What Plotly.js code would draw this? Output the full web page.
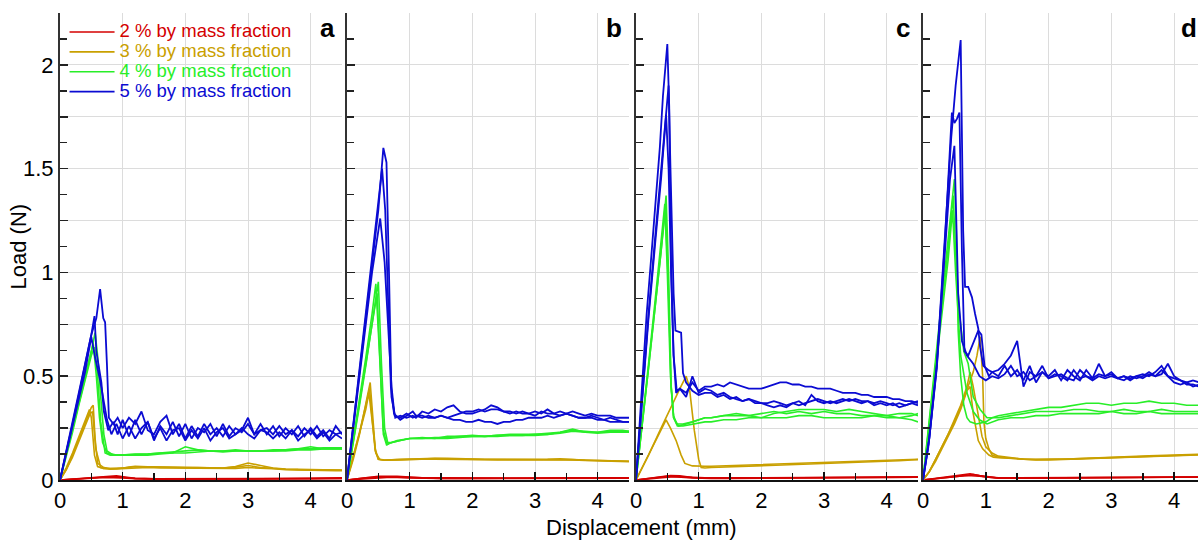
<!DOCTYPE html>
<html>
<head>
<meta charset="utf-8">
<script src="https://cdn.plot.ly/plotly-3.0.1.min.js"></script>
<style>html,body{margin:0;padding:0;background:#fff;}#chart{width:1198px;height:540px;}</style>
</head>
<body>
<div id="chart"></div>
<script>
// ---------- shared plateau grids (mm) ----------
const G  = [1.2,1.3,1.4,1.5,1.6,1.7,1.8,1.9,2.0,2.1,2.2,2.3,2.4,2.5,2.6,2.7,2.8,2.9,3.0,3.1,3.2,3.3,3.4,3.5,3.6,3.7,3.8,3.9,4.0,4.1,4.2,4.3,4.4,4.5];
const GM = [1.2,1.4,1.6,1.8,2.0,2.2,2.4,2.6,2.8,3.0,3.2,3.4,3.6,3.8,4.0,4.2,4.4,4.5];
const GC = [1.2,1.5,2.0,2.5,3.0,3.5,4.0,4.5];

// ---------- series ----------
const seriesNames  = ['2 % by mass fraction','3 % by mass fraction','4 % by mass fraction','5 % by mass fraction'];
const seriesColors = ['#d40000','#c9a000','#28ee28','#0b0bd2'];
const panelLetters = ['a','b','c','d'];
const yTickVals = [0,0.25,0.5,0.75,1,1.25,1.5,1.75,2];
const yTickText = ['0','','0.5','','1','','1.5','','2'];
const xTickVals = [0,1,2,3,4];
const xTickText = ['0','1','2','3','4'];

// ===== Panel a =====
const a2_1x=[0,0.3,0.6,0.9,1.1], a2_1y=[0,0.006,0.014,0.02,0.012], a2_1t=[0.008,0.006,0.005,0.005,0.005,0.006,0.007,0.008];
const a2_2x=[0,0.3,0.6,0.8,1.0], a2_2y=[0,0.005,0.012,0.016,0.012], a2_2t=[0.008,0.006,0.006,0.005,0.006,0.007,0.008,0.01];
const a2_3x=[0,0.4,0.7,1.0], a2_3y=[0,0.008,0.012,0.01], a2_3t=[0.006,0.004,0.004,0.004,0.005,0.005,0.006,0.007];

const a3_1x=[0,0.1,0.2,0.3,0.4,0.5,0.53,0.56,0.6,0.7,0.8,1.0,1.1], a3_1y=[0,0.05,0.12,0.2,0.28,0.35,0.36,0.2,0.08,0.06,0.055,0.057,0.062];
const a3_1t=[0.066,0.064,0.062,0.062,0.06,0.06,0.06,0.058,0.062,0.07,0.06,0.055,0.052,0.05,0.05,0.05,0.048,0.048];
const a3_2x=[0,0.1,0.2,0.3,0.4,0.47,0.5,0.55,0.6,0.7,0.9,1.1], a3_2y=[0,0.06,0.13,0.21,0.29,0.34,0.3,0.12,0.065,0.055,0.055,0.06];
const a3_2t=[0.064,0.063,0.062,0.06,0.06,0.059,0.058,0.058,0.065,0.082,0.07,0.058,0.053,0.05,0.05,0.049,0.048,0.047];
const a3_3x=[0,0.1,0.2,0.3,0.4,0.48,0.52,0.57,0.65,0.8,1.0], a3_3y=[0,0.05,0.11,0.19,0.26,0.32,0.33,0.15,0.06,0.052,0.055];
const a3_3t=[0.06,0.06,0.058,0.058,0.056,0.056,0.056,0.055,0.056,0.06,0.058,0.054,0.05,0.048,0.047,0.046,0.045,0.045];

const a4_1x=[0,0.1,0.2,0.3,0.4,0.5,0.56,0.6,0.65,0.7,0.75,0.85,1.0,1.1], a4_1y=[0,0.12,0.25,0.38,0.5,0.62,0.71,0.6,0.4,0.22,0.14,0.12,0.12,0.122];
const a4_1t=[0.125,0.125,0.13,0.135,0.14,0.145,0.14,0.14,0.145,0.14,0.14,0.145,0.145,0.15,0.15,0.155,0.155,0.155];
const a4_2x=[0,0.1,0.2,0.3,0.4,0.5,0.53,0.58,0.63,0.68,0.75,0.9,1.1], a4_2y=[0,0.12,0.25,0.37,0.49,0.62,0.66,0.5,0.3,0.18,0.13,0.12,0.122];
const a4_2t=[0.122,0.125,0.13,0.13,0.16,0.145,0.14,0.14,0.14,0.14,0.14,0.14,0.145,0.15,0.16,0.15,0.15,0.15];
const a4_3x=[0,0.1,0.2,0.3,0.4,0.5,0.55,0.6,0.65,0.72,0.8,1.0], a4_3y=[0,0.11,0.23,0.36,0.48,0.6,0.64,0.5,0.28,0.13,0.12,0.12];
const a4_3t=[0.12,0.12,0.125,0.13,0.13,0.135,0.14,0.135,0.14,0.14,0.14,0.14,0.14,0.145,0.145,0.15,0.15,0.15];

const a5_1x=[0,0.1,0.2,0.3,0.4,0.5,0.58,0.64,0.69,0.72,0.75,0.78,0.85,0.92,1.0,1.1], a5_1y=[0,0.14,0.28,0.42,0.56,0.7,0.78,0.92,0.78,0.76,0.55,0.3,0.27,0.3,0.25,0.3];
const a5_1t=[0.27,0.33,0.24,0.22,0.28,0.31,0.22,0.27,0.2,0.26,0.21,0.27,0.22,0.25,0.21,0.26,0.22,0.24,0.3,0.22,0.24,0.25,0.22,0.26,0.22,0.24,0.21,0.25,0.22,0.26,0.21,0.24,0.22,0.23];
const a5_2x=[0,0.1,0.2,0.3,0.4,0.5,0.55,0.58,0.66,0.7,0.77,0.85,0.92,1.0,1.1], a5_2y=[0,0.13,0.27,0.41,0.55,0.7,0.79,0.62,0.47,0.33,0.24,0.28,0.22,0.29,0.21];
const a5_2t=[0.29,0.22,0.28,0.19,0.26,0.22,0.28,0.21,0.27,0.2,0.25,0.23,0.27,0.21,0.27,0.21,0.25,0.23,0.27,0.22,0.27,0.22,0.26,0.21,0.25,0.22,0.26,0.21,0.25,0.21,0.24,0.2,0.26,0.22];
const a5_3x=[0,0.1,0.2,0.3,0.4,0.5,0.56,0.64,0.75,0.82,0.9,1.0,1.1], a5_3y=[0,0.13,0.26,0.39,0.52,0.69,0.59,0.48,0.29,0.22,0.27,0.2,0.26];
const a5_3t=[0.2,0.25,0.28,0.2,0.25,0.19,0.24,0.25,0.19,0.24,0.2,0.25,0.19,0.23,0.25,0.2,0.22,0.25,0.22,0.2,0.24,0.23,0.2,0.23,0.2,0.24,0.19,0.22,0.24,0.2,0.23,0.19,0.22,0.2];

// ===== Panel b =====
const b2_1x=[0,0.3,0.5,0.8,1.1], b2_1y=[0,0.012,0.018,0.018,0.012], b2_1t=[0.011,0.01,0.009,0.009,0.009,0.01,0.01,0.011];
const b2_2x=[0,0.3,0.6,0.9,1.1], b2_2y=[0,0.01,0.016,0.014,0.01], b2_2t=[0.009,0.008,0.008,0.008,0.009,0.009,0.01,0.01];
const b2_3x=[0,0.4,0.7,1.0], b2_3y=[0,0.01,0.014,0.01], b2_3t=[0.008,0.007,0.007,0.007,0.008,0.008,0.009,0.009];

const b3_1x=[0,0.1,0.2,0.3,0.37,0.4,0.45,0.5,0.6,0.8,1.0], b3_1y=[0,0.1,0.22,0.36,0.47,0.35,0.15,0.1,0.095,0.098,0.1];
const b3_1t=[0.104,0.105,0.104,0.102,0.1,0.1,0.1,0.1,0.098,0.098,0.1,0.1,0.098,0.096,0.095,0.094,0.092,0.09];
const b3_2x=[0,0.1,0.2,0.3,0.36,0.4,0.45,0.5,0.6,0.8,1.0], b3_2y=[0,0.11,0.23,0.36,0.44,0.3,0.14,0.1,0.095,0.097,0.1];
const b3_2t=[0.102,0.103,0.102,0.1,0.1,0.099,0.098,0.098,0.097,0.097,0.1,0.102,0.098,0.095,0.094,0.093,0.092,0.09];
const b3_3x=[0,0.1,0.2,0.3,0.35,0.4,0.46,0.52,0.6,0.8,1.0], b3_3y=[0,0.11,0.22,0.34,0.42,0.3,0.13,0.1,0.096,0.098,0.1];
const b3_3t=[0.1,0.1,0.1,0.1,0.098,0.098,0.097,0.097,0.096,0.096,0.097,0.098,0.096,0.094,0.093,0.092,0.09,0.088];

const b4_1x=[0,0.1,0.2,0.3,0.4,0.5,0.55,0.6,0.65,0.7,0.8,1.0], b4_1y=[0,0.17,0.36,0.55,0.75,0.955,0.56,0.25,0.18,0.18,0.19,0.2];
const b4_1t=[0.205,0.2,0.21,0.21,0.215,0.21,0.215,0.22,0.22,0.22,0.22,0.225,0.235,0.23,0.225,0.23,0.23,0.23];
const b4_2x=[0,0.1,0.2,0.3,0.4,0.46,0.52,0.58,0.64,0.7,0.85,1.0], b4_2y=[0,0.19,0.39,0.59,0.8,0.945,0.6,0.24,0.17,0.18,0.19,0.2];
const b4_2t=[0.2,0.2,0.2,0.205,0.21,0.21,0.21,0.215,0.215,0.215,0.22,0.23,0.245,0.23,0.23,0.24,0.24,0.235];
const b4_3x=[0,0.1,0.2,0.3,0.4,0.48,0.53,0.58,0.63,0.7,0.85,1.0], b4_3y=[0,0.18,0.37,0.56,0.75,0.9,0.55,0.22,0.17,0.18,0.19,0.2];
const b4_3t=[0.2,0.205,0.205,0.21,0.21,0.21,0.215,0.215,0.215,0.22,0.225,0.23,0.24,0.235,0.23,0.235,0.235,0.235];

const b5_1x=[0,0.1,0.2,0.3,0.4,0.5,0.58,0.63,0.67,0.71,0.77,0.85,0.95,1.05,1.1], b5_1y=[0,0.26,0.52,0.78,1.04,1.3,1.6,1.53,1.0,0.4,0.3,0.31,0.3,0.31,0.3];
const b5_1t=[0.33,0.32,0.34,0.33,0.35,0.36,0.33,0.32,0.32,0.33,0.34,0.36,0.35,0.33,0.33,0.32,0.33,0.32,0.33,0.32,0.34,0.32,0.33,0.32,0.33,0.32,0.31,0.32,0.31,0.31,0.31,0.3,0.3,0.3];
const b5_2x=[0,0.1,0.2,0.3,0.4,0.5,0.53,0.6,0.66,0.71,0.76,0.85,0.95,1.05,1.1], b5_2y=[0,0.25,0.5,0.76,1.0,1.2,1.26,1.05,0.72,0.45,0.31,0.3,0.32,0.3,0.31];
const b5_2t=[0.3,0.31,0.3,0.31,0.3,0.31,0.32,0.33,0.33,0.34,0.33,0.34,0.34,0.33,0.32,0.33,0.32,0.32,0.31,0.33,0.32,0.32,0.31,0.32,0.31,0.3,0.3,0.31,0.3,0.29,0.28,0.28,0.28,0.28];
const b5_3x=[0,0.1,0.2,0.3,0.4,0.5,0.56,0.61,0.66,0.7,0.75,0.85,0.95,1.05,1.1], b5_3y=[0,0.27,0.53,0.8,1.06,1.32,1.5,1.3,0.8,0.45,0.32,0.29,0.31,0.33,0.31];
const b5_3t=[0.31,0.3,0.3,0.31,0.3,0.29,0.29,0.28,0.28,0.29,0.28,0.28,0.27,0.28,0.28,0.29,0.29,0.3,0.3,0.3,0.31,0.3,0.31,0.32,0.31,0.3,0.3,0.3,0.29,0.29,0.3,0.29,0.28,0.28];

// ===== Panel c =====
const c2_1x=[0,0.3,0.55,0.7,0.9,1.1], c2_1y=[0,0.012,0.022,0.02,0.012,0.01], c2_1t=[0.01,0.01,0.011,0.012,0.012,0.013,0.014,0.015];
const c2_2x=[0,0.3,0.5,0.8,1.1], c2_2y=[0,0.01,0.018,0.014,0.009], c2_2t=[0.009,0.009,0.01,0.01,0.011,0.012,0.013,0.014];
const c2_3x=[0,0.4,0.6,0.9,1.1], c2_3y=[0,0.01,0.016,0.01,0.008], c2_3t=[0.008,0.008,0.009,0.01,0.01,0.011,0.012,0.013];

const c3_1x=[0,0.2,0.4,0.6,0.7,0.8,0.85,0.93,1.0,1.04,1.1], c3_1y=[0,0.12,0.25,0.38,0.44,0.5,0.45,0.24,0.1,0.06,0.058];
const c3_1t=[0.06,0.062,0.064,0.066,0.068,0.07,0.072,0.074,0.076,0.078,0.08,0.082,0.085,0.088,0.09,0.093,0.096,0.098];
const c3_2x=[0,0.1,0.2,0.3,0.4,0.48,0.55,0.64,0.72,0.78,0.9,1.0,1.1], c3_2y=[0,0.06,0.12,0.18,0.24,0.29,0.25,0.19,0.12,0.08,0.068,0.066,0.066];
const c3_2t=[0.066,0.068,0.07,0.072,0.074,0.076,0.078,0.08,0.082,0.084,0.086,0.088,0.09,0.092,0.094,0.096,0.098,0.1];

const c4_1x=[0,0.1,0.2,0.3,0.4,0.48,0.52,0.56,0.6,0.65,0.75,0.9,1.0,1.1], c4_1y=[0,0.26,0.54,0.82,1.1,1.37,1.0,0.45,0.31,0.27,0.27,0.28,0.29,0.3];
const c4_1t=[0.3,0.31,0.31,0.31,0.3,0.32,0.33,0.34,0.34,0.34,0.33,0.34,0.33,0.32,0.31,0.32,0.32,0.31];
const c4_2x=[0,0.1,0.2,0.3,0.4,0.46,0.5,0.55,0.6,0.68,0.8,1.0,1.1], c4_2y=[0,0.27,0.56,0.85,1.14,1.33,1.0,0.5,0.3,0.26,0.27,0.29,0.3];
const c4_2t=[0.3,0.31,0.32,0.31,0.32,0.33,0.32,0.33,0.32,0.33,0.32,0.32,0.31,0.31,0.3,0.3,0.29,0.28];
const c4_3x=[0,0.1,0.2,0.3,0.4,0.47,0.52,0.56,0.6,0.66,0.75,0.9,1.1], c4_3y=[0,0.26,0.54,0.82,1.1,1.3,0.9,0.45,0.3,0.26,0.26,0.27,0.28];
const c4_3t=[0.28,0.29,0.29,0.3,0.3,0.3,0.3,0.31,0.31,0.3,0.3,0.3,0.3,0.31,0.31,0.3,0.31,0.32];

const c5_1x=[0,0.1,0.17,0.25,0.32,0.38,0.43,0.5,0.53,0.56,0.6,0.64,0.7,0.8,0.9,1.0,1.1], c5_1y=[0,0.47,0.8,1.1,1.37,1.6,1.85,2.1,1.8,1.04,0.6,0.42,0.44,0.42,0.47,0.43,0.45];
const c5_1t=[0.45,0.46,0.45,0.47,0.46,0.45,0.44,0.44,0.44,0.45,0.46,0.47,0.47,0.46,0.46,0.45,0.45,0.44,0.44,0.44,0.43,0.42,0.42,0.42,0.41,0.41,0.4,0.4,0.4,0.39,0.39,0.38,0.38,0.37];
const c5_2x=[0,0.1,0.2,0.3,0.4,0.52,0.55,0.6,0.63,0.67,0.72,0.75,0.8,0.9,1.0,1.1], c5_2y=[0,0.42,0.8,1.15,1.5,1.9,1.5,0.9,0.72,0.715,0.71,0.515,0.47,0.43,0.41,0.42];
const c5_2t=[0.42,0.4,0.41,0.39,0.4,0.38,0.39,0.37,0.37,0.36,0.35,0.36,0.35,0.37,0.38,0.36,0.41,0.38,0.37,0.38,0.37,0.38,0.39,0.38,0.37,0.38,0.36,0.37,0.36,0.37,0.35,0.36,0.37,0.36];
const c5_3x=[0,0.1,0.2,0.3,0.4,0.48,0.52,0.56,0.6,0.65,0.7,0.8,0.9,1.0,1.1], c5_3y=[0,0.4,0.78,1.12,1.45,1.76,1.5,1.0,0.6,0.43,0.44,0.4,0.5,0.42,0.44];
const c5_3t=[0.43,0.41,0.42,0.4,0.39,0.38,0.39,0.38,0.37,0.37,0.38,0.37,0.36,0.37,0.36,0.37,0.38,0.39,0.38,0.37,0.38,0.39,0.38,0.39,0.38,0.38,0.37,0.38,0.37,0.36,0.37,0.36,0.37,0.38];

// ===== Panel d =====
const d2_1x=[0,0.3,0.6,0.75,0.9,1.1], d2_1y=[0,0.012,0.025,0.03,0.022,0.012], d2_1t=[0.01,0.01,0.01,0.011,0.012,0.013,0.014,0.015];
const d2_2x=[0,0.3,0.6,0.8,1.0], d2_2y=[0,0.01,0.02,0.026,0.015], d2_2t=[0.01,0.009,0.01,0.011,0.012,0.013,0.014,0.015];
const d2_3x=[0,0.4,0.7,0.9,1.1], d2_3y=[0,0.012,0.022,0.018,0.01], d2_3t=[0.009,0.009,0.009,0.01,0.011,0.012,0.013,0.014];

const d3_1x=[0,0.1,0.2,0.3,0.4,0.5,0.6,0.7,0.8,0.86,0.91,0.95,0.97,1.0,1.05,1.1], d3_1y=[0,0.04,0.1,0.16,0.22,0.28,0.35,0.43,0.52,0.6,0.69,0.5,0.28,0.2,0.15,0.12];
const d3_1t=[0.11,0.105,0.1,0.1,0.1,0.1,0.102,0.105,0.108,0.11,0.112,0.114,0.116,0.118,0.12,0.122,0.124,0.125];
const d3_2x=[0,0.1,0.2,0.3,0.4,0.5,0.6,0.7,0.75,0.8,0.88,0.94,1.0,1.1], d3_2y=[0,0.04,0.1,0.16,0.22,0.29,0.36,0.45,0.52,0.45,0.3,0.21,0.16,0.13];
const d3_2t=[0.115,0.108,0.1,0.098,0.098,0.1,0.102,0.104,0.106,0.108,0.11,0.112,0.114,0.116,0.118,0.12,0.122,0.123];
const d3_3x=[0,0.1,0.2,0.3,0.4,0.5,0.6,0.7,0.75,0.8,0.88,0.95,1.05,1.12], d3_3y=[0,0.04,0.09,0.15,0.21,0.27,0.34,0.43,0.45,0.32,0.19,0.15,0.12,0.11];
const d3_3t=[0.108,0.104,0.1,0.097,0.096,0.098,0.1,0.102,0.105,0.107,0.109,0.111,0.113,0.115,0.117,0.119,0.121,0.122];

const d4_1x=[0,0.1,0.2,0.3,0.4,0.5,0.53,0.56,0.6,0.65,0.7,0.75,0.85,1.0,1.1], d4_1y=[0,0.28,0.58,0.87,1.16,1.45,1.2,0.72,0.5,0.36,0.3,0.28,0.27,0.28,0.3];
const d4_1t=[0.31,0.32,0.33,0.34,0.35,0.35,0.36,0.37,0.37,0.36,0.37,0.37,0.38,0.37,0.37,0.36,0.36,0.36];
const d4_2x=[0,0.1,0.2,0.3,0.4,0.48,0.52,0.58,0.65,0.72,0.8,0.91,1.02,1.1], d4_2y=[0,0.27,0.55,0.83,1.11,1.37,1.1,0.8,0.62,0.56,0.4,0.34,0.3,0.3];
const d4_2t=[0.3,0.31,0.32,0.33,0.33,0.33,0.34,0.34,0.33,0.33,0.34,0.33,0.33,0.34,0.33,0.33,0.33,0.33];
const d4_3x=[0,0.1,0.2,0.3,0.4,0.47,0.52,0.6,0.7,0.8,0.9,1.02,1.1], d4_3y=[0,0.26,0.52,0.8,1.06,1.3,1.0,0.6,0.42,0.33,0.29,0.27,0.28];
const d4_3t=[0.29,0.3,0.3,0.31,0.31,0.32,0.32,0.32,0.32,0.33,0.32,0.32,0.33,0.32,0.32,0.32,0.32,0.32];

const d5_1x=[0,0.085,0.22,0.35,0.45,0.52,0.6,0.64,0.67,0.72,0.78,0.83,0.88,0.91,0.96,1.04,1.1], d5_1y=[0,0.16,0.56,1.2,1.65,1.9,2.12,1.2,0.93,0.93,0.88,0.8,0.73,0.64,0.55,0.53,0.52];
const d5_1t=[0.53,0.56,0.6,0.67,0.45,0.52,0.5,0.55,0.49,0.51,0.5,0.48,0.53,0.49,0.5,0.49,0.51,0.5,0.52,0.49,0.5,0.49,0.5,0.51,0.5,0.52,0.55,0.5,0.49,0.48,0.46,0.46,0.45,0.45];
const d5_2x=[0,0.1,0.22,0.35,0.46,0.5,0.54,0.58,0.62,0.66,0.72,0.82,0.88,0.93,0.98,1.05,1.1], d5_2y=[0,0.2,0.55,1.15,1.77,1.72,1.74,1.77,1.1,0.62,0.6,0.68,0.72,0.7,0.55,0.5,0.52];
const d5_2t=[0.5,0.55,0.5,0.53,0.48,0.55,0.47,0.52,0.5,0.53,0.48,0.53,0.5,0.48,0.53,0.49,0.56,0.5,0.51,0.49,0.5,0.48,0.5,0.49,0.51,0.5,0.53,0.5,0.47,0.46,0.47,0.45,0.46,0.44];
const d5_3x=[0,0.1,0.22,0.35,0.43,0.5,0.56,0.62,0.7,0.8,0.9,1.0,1.1], d5_3y=[0,0.2,0.54,1.1,1.45,1.61,0.9,0.67,0.6,0.56,0.5,0.48,0.5];
const d5_3t=[0.49,0.51,0.55,0.5,0.52,0.48,0.5,0.52,0.49,0.5,0.51,0.49,0.48,0.53,0.5,0.48,0.5,0.49,0.5,0.49,0.48,0.5,0.49,0.5,0.52,0.5,0.51,0.56,0.5,0.48,0.47,0.48,0.47,0.47];

// ---------- assembly ----------
// [panel index, series index, head x, head y, tail y, tail grid]
const curves = [
  [0,0,a2_1x,a2_1y,a2_1t,GC],[0,0,a2_2x,a2_2y,a2_2t,GC],[0,0,a2_3x,a2_3y,a2_3t,GC],
  [1,0,b2_1x,b2_1y,b2_1t,GC],[1,0,b2_2x,b2_2y,b2_2t,GC],[1,0,b2_3x,b2_3y,b2_3t,GC],
  [2,0,c2_1x,c2_1y,c2_1t,GC],[2,0,c2_2x,c2_2y,c2_2t,GC],[2,0,c2_3x,c2_3y,c2_3t,GC],
  [3,0,d2_1x,d2_1y,d2_1t,GC],[3,0,d2_2x,d2_2y,d2_2t,GC],[3,0,d2_3x,d2_3y,d2_3t,GC],
  [0,1,a3_1x,a3_1y,a3_1t,GM],[0,1,a3_2x,a3_2y,a3_2t,GM],[0,1,a3_3x,a3_3y,a3_3t,GM],
  [1,1,b3_1x,b3_1y,b3_1t,GM],[1,1,b3_2x,b3_2y,b3_2t,GM],[1,1,b3_3x,b3_3y,b3_3t,GM],
  [2,1,c3_1x,c3_1y,c3_1t,GM],[2,1,c3_2x,c3_2y,c3_2t,GM],
  [3,1,d3_1x,d3_1y,d3_1t,GM],[3,1,d3_2x,d3_2y,d3_2t,GM],[3,1,d3_3x,d3_3y,d3_3t,GM],
  [0,2,a4_1x,a4_1y,a4_1t,GM],[0,2,a4_2x,a4_2y,a4_2t,GM],[0,2,a4_3x,a4_3y,a4_3t,GM],
  [1,2,b4_1x,b4_1y,b4_1t,GM],[1,2,b4_2x,b4_2y,b4_2t,GM],[1,2,b4_3x,b4_3y,b4_3t,GM],
  [2,2,c4_1x,c4_1y,c4_1t,GM],[2,2,c4_2x,c4_2y,c4_2t,GM],[2,2,c4_3x,c4_3y,c4_3t,GM],
  [3,2,d4_1x,d4_1y,d4_1t,GM],[3,2,d4_2x,d4_2y,d4_2t,GM],[3,2,d4_3x,d4_3y,d4_3t,GM],
  [0,3,a5_1x,a5_1y,a5_1t,G],[0,3,a5_2x,a5_2y,a5_2t,G],[0,3,a5_3x,a5_3y,a5_3t,G],
  [1,3,b5_1x,b5_1y,b5_1t,G],[1,3,b5_2x,b5_2y,b5_2t,G],[1,3,b5_3x,b5_3y,b5_3t,G],
  [2,3,c5_1x,c5_1y,c5_1t,G],[2,3,c5_2x,c5_2y,c5_2t,G],[2,3,c5_3x,c5_3y,c5_3t,G],
  [3,3,d5_1x,d5_1y,d5_1t,G],[3,3,d5_2x,d5_2y,d5_2t,G],[3,3,d5_3x,d5_3y,d5_3t,G]
];

const shown = [false,false,false,false];
const traces = curves.map(([p,s,hx,hy,ty,grid]) => {
  const n = Math.min(ty.length, grid.length);
  const suf = p === 0 ? '' : String(p+1);
  const show = !shown[s]; shown[s] = true;
  return {
    type:'scatter', mode:'lines',
    x: hx.concat(grid.slice(0,n)), y: hy.concat(ty.slice(0,n)),
    xaxis:'x'+suf, yaxis:'y'+suf,
    line:{color:seriesColors[s], width: s===3 ? 1.8 : 1.6},
    name:'<span style="color:'+seriesColors[s]+';font-size:18.5px">'+seriesNames[s]+'</span>',
    legendgroup:'g'+s, showlegend:show, hoverinfo:'skip'
  };
});

const FONT = 'Liberation Sans, Arial, Helvetica, sans-serif';
const W = 1138; // plot width in px (1198 - 60)
const domains = [[0,282/W],[287/W,569/W],[576/W,858/W],[863/W,1]];
const xRanges = [[0,4.5],[0,4.5],[0,4.5],[0,4.38]];

const layout = {
  width:1198, height:540,
  margin:{l:60,r:0,t:13,b:60,pad:0},
  paper_bgcolor:'#ffffff', plot_bgcolor:'#ffffff',
  font:{family:FONT,size:22,color:'#000'},
  showlegend:true,
  legend:{x:0.004,y:1-4/467,xanchor:'left',yanchor:'top',bgcolor:'rgba(0,0,0,0)',
          font:{family:FONT,size:13},tracegroupgap:0,itemwidth:45},
  annotations:[],
  hovermode:false
};

for (let p=0;p<4;p++){
  const suf = p===0 ? '' : String(p+1);
  layout['xaxis'+suf] = {
    domain:domains[p], range:xRanges[p], anchor:'y'+suf,
    tickmode:'array', tickvals:xTickVals, ticktext:xTickText,
    ticks:'inside', ticklen:8, tickwidth:1.5, tickcolor:'#111',
    minor:{dtick:0.5, tick0:0, ticks:'inside', ticklen:7, tickwidth:1.5, tickcolor:'#111', showgrid:false},
    showgrid:true, gridcolor:'#dcdcdc', gridwidth:1,
    showline:true, linecolor:'#111', linewidth:1.5,
    zeroline:false, tickfont:{family:FONT,size:22,color:'#000'}, fixedrange:true
  };
  layout['yaxis'+suf] = {
    domain:[0,1], range:[0,2.25], anchor:'x'+suf,
    tickmode:'array', tickvals:yTickVals, ticktext:yTickText,
    ticks:'inside', ticklen:8, tickwidth:1.5, tickcolor:'#222',
    minor:{dtick:0.125, tick0:0, ticks:'inside', ticklen:7, tickwidth:1.5, tickcolor:'#222', showgrid:false},
    showgrid:true, gridcolor:'#dcdcdc', gridwidth:1,
    showline:true, linecolor:'#333', linewidth:2,
    zeroline:false, showticklabels: p===0,
    tickfont:{family:FONT,size:22,color:'#000'}, fixedrange:true
  };
  if (p>0) layout['yaxis'+suf].matches = 'y';
}

const letterPx = [327, 614, 902.5, 1189];
letterPx.forEach((px,i)=>{
  layout.annotations.push({text:'<b>'+panelLetters[i]+'</b>', xref:'paper', yref:'paper',
    x:(px-60)/W, y:0.967, xanchor:'center', yanchor:'middle', showarrow:false,
    font:{family:FONT,size:26,color:'#000'}});
});
layout.annotations.push({text:'Load (N)', xref:'paper', yref:'paper', x:(18-60)/W, y:0.5,
  xanchor:'center', yanchor:'middle', textangle:-90, showarrow:false, font:{family:FONT,size:22,color:'#000'}});
layout.annotations.push({text:'Displacement (mm)', xref:'paper', yref:'paper', x:(641-60)/W, y:(480-527)/467,
  xanchor:'center', yanchor:'middle', showarrow:false, font:{family:FONT,size:22,color:'#000'}});

Plotly.newPlot('chart', traces, layout, {staticPlot:true, displayModeBar:false});
</script>
</body>
</html>
